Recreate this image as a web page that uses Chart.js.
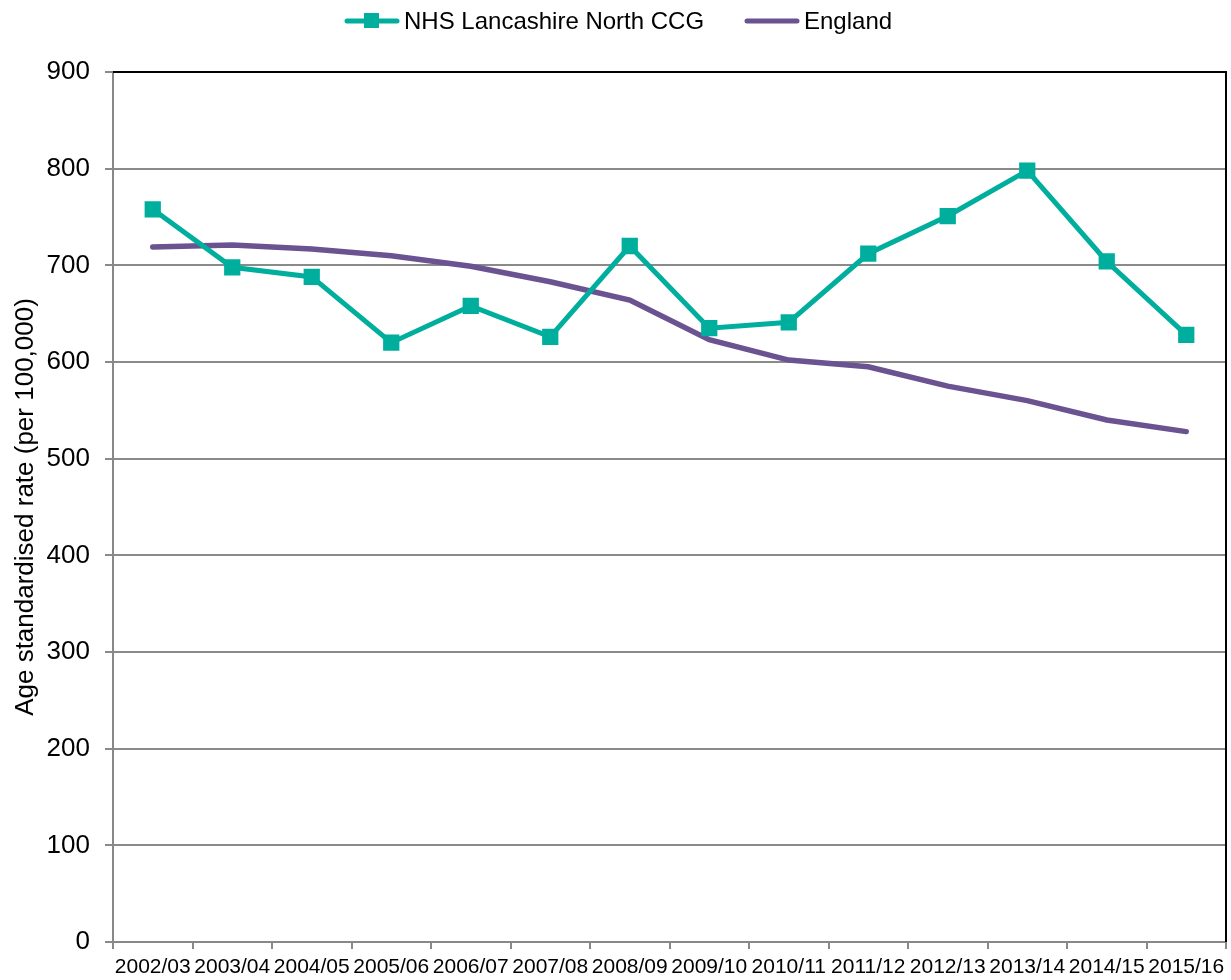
<!DOCTYPE html>
<html>
<head>
<meta charset="utf-8">
<script src="https://cdn.jsdelivr.net/npm/chart.js@4/dist/chart.umd.min.js"></script>
<style>
  html, body { margin: 0; padding: 0; background: #fff; overflow: hidden; }
  #chart { width: 1231px; height: 980px; }
  canvas { display: block; }
</style>
</head>
<body>
<div id="chart"><canvas id="c" width="1231" height="980"></canvas></div>
<script>
const years = ["2002/03", "2003/04", "2004/05", "2005/06", "2006/07", "2007/08", "2008/09",
  "2009/10", "2010/11", "2011/12", "2012/13", "2013/14", "2014/15", "2015/16"];
const lancsNorth = [758, 698, 688, 620, 658, 626, 720, 635, 641, 712, 751, 798, 704, 628];
const england = [719, 721, 717, 710, 699, 683, 664, 623, 602, 595, 575, 560, 540, 528];
const yTicks = [0, 100, 200, 300, 400, 500, 600, 700, 800, 900];

const TEAL = "#00ae9e";
const PURPLE = "#6b5391";
const FONT = "'Liberation Sans', Arial, sans-serif";

// top + right frame are black in the original
const framePlugin = {
  id: "frame",
  afterDatasetsDraw(chart) {
    const { ctx, chartArea } = chart;
    ctx.save();
    ctx.strokeStyle = "#000";
    ctx.lineWidth = 2;
    ctx.beginPath();
    ctx.moveTo(chartArea.left, chartArea.top);
    ctx.lineTo(chartArea.right, chartArea.top);
    ctx.lineTo(chartArea.right, chartArea.bottom);
    ctx.stroke();
    ctx.restore();
  }
};

// legend: line with square marker, drawn like the spreadsheet one
const legendPlugin = {
  id: "lineLegend",
  afterDraw(chart) {
    const { ctx } = chart;
    const y = 21;
    const items = [
      { x: 345, label: chart.data.datasets[0].label, color: TEAL, marker: true },
      { x: 745, label: chart.data.datasets[1].label, color: PURPLE, marker: false }
    ];
    ctx.save();
    ctx.font = "24px " + FONT;
    ctx.textBaseline = "middle";
    items.forEach(it => {
      ctx.strokeStyle = it.color;
      ctx.lineWidth = 5;
      ctx.lineCap = "round";
      ctx.beginPath();
      ctx.moveTo(it.x + 2, y);
      ctx.lineTo(it.x + 52, y);
      ctx.stroke();
      if (it.marker) {
        ctx.fillStyle = it.color;
        ctx.fillRect(it.x + 19, y - 8, 15, 15);
      }
      ctx.fillStyle = "#000";
      ctx.fillText(it.label, it.x + 59, y + 1);
    });
    ctx.restore();
  }
};

new Chart(document.getElementById("c"), {
  type: "line",
  data: {
    labels: years,
    datasets: [
      {
        label: "NHS Lancashire North CCG",
        data: lancsNorth,
        borderColor: TEAL,
        backgroundColor: TEAL,
        borderWidth: 5,
        pointStyle: "rect",
        pointRadius: 11.5,
        pointHoverRadius: 11.5,
        pointBorderWidth: 0,
        tension: 0
      },
      {
        label: "England",
        data: england,
        borderColor: PURPLE,
        backgroundColor: PURPLE,
        borderWidth: 5.5,
        borderCapStyle: "round",
        pointRadius: 0,
        tension: 0
      }
    ]
  },
  options: {
    responsive: false,
    animation: false,
    layout: { autoPadding: false, padding: { top: 72, right: 5, left: 0, bottom: 0 } },
    plugins: {
      legend: { display: false },
      tooltip: { enabled: false }
    },
    scales: {
      x: {
        offset: true,
        grid: {
          offset: true,
          drawOnChartArea: false,
          drawTicks: true,
          tickLength: 7,
          color: "#888",
          lineWidth: 2
        },
        border: { color: "#888", width: 2 },
        ticks: {
          color: "#000",
          font: { family: FONT, size: 21 },
          padding: 6,
          autoSkip: false,
          maxRotation: 0,
          minRotation: 0
        },
        afterFit(scale) {
          scale.height = 38;
          scale.paddingLeft = 0;
          scale.paddingRight = 0;
        }
      },
      y: {
        min: 0,
        max: 900,
        afterBuildTicks(scale) { scale.ticks = yTicks.map(v => ({ value: v })); },
        grid: {
          color: "#8a8a8a",
          lineWidth: 2,
          tickLength: 8
        },
        border: { color: "#888", width: 2 },
        ticks: {
          color: "#000",
          font: { family: FONT, size: 26 },
          padding: 15
        },
        title: {
          display: true,
          text: "Age standardised rate (per 100,000)",
          color: "#000",
          font: { family: FONT, size: 26 },
          padding: { top: 10, bottom: 0 }
        },
        afterFit(scale) { scale.width = 113; }
      }
    }
  },
  plugins: [framePlugin, legendPlugin]
});
</script>
</body>
</html>
